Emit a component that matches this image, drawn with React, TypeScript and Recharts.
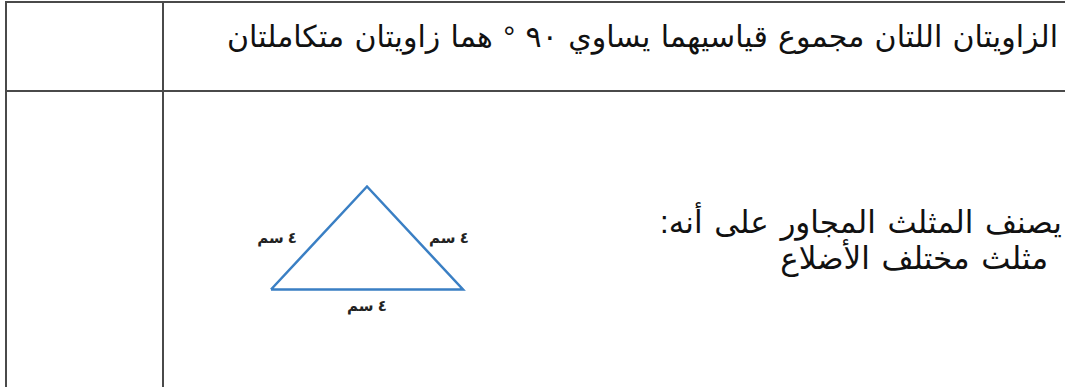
import React from "react"
import { LineChart, Line, XAxis, YAxis, ReferenceDot } from "recharts"

// triangle vertices (closed path: last point repeats the first)
const vertexX = [0, 2, 4, 0]
const vertexY = [0, 1, 0, 0]
const sideLabel = "٤ سم"

const headerText = "الزاويتان اللتان مجموع قياسيهما يساوي ٩٠ ° هما زاويتان متكاملتان"
const bodyLine1 = "يصنف المثلث المجاور على أنه:"
const bodyLine2 = "مثلث مختلف الأضلاع"

const triangle = vertexX.map((x, i) => ({ x, y: vertexY[i] }))

// midpoints of the three sides, each label placed outside its side
const sides = [
  { a: 0, b: 1, position: "left", offset: 22 },
  { a: 1, b: 2, position: "right", offset: 14 },
  { a: 2, b: 3, position: "bottom", offset: 11 },
].map((s) => ({
  x: (vertexX[s.a] + vertexX[s.b]) / 2,
  y: (vertexY[s.a] + vertexY[s.b]) / 2,
  position: s.position,
  offset: s.offset,
}))

const lineColor = "#3a7fc4"
const rule = "#4a4a4a"
const arabicFont = "'Liberation Sans', 'DejaVu Sans', sans-serif"

export default function App() {
  return (
    <div
      style={{
        position: "fixed",
        left: 0,
        top: 0,
        width: 1065,
        height: 387,
        background: "#fff",
        overflow: "hidden",
        fontFamily: arabicFont,
        color: "#111",
      }}
    >
      {/* table rules */}
      <div style={{ position: "absolute", left: 5, top: 1, width: 1060, height: 2, background: rule }} />
      <div style={{ position: "absolute", left: 5, top: 90, width: 1060, height: 2, background: rule }} />
      <div style={{ position: "absolute", left: 5, top: 1, width: 2, height: 386, background: rule }} />
      <div style={{ position: "absolute", left: 162, top: 1, width: 2, height: 386, background: rule }} />

      <div
        dir="rtl"
        style={{
          position: "absolute",
          right: 7,
          top: 22,
          fontSize: 30,
          lineHeight: "30px",
          wordSpacing: 2,
          whiteSpace: "nowrap",
        }}
      >
        {headerText}
      </div>

      <div
        dir="rtl"
        style={{
          position: "absolute",
          right: 3,
          top: 205,
          fontSize: 31,
          lineHeight: "36px",
          wordSpacing: 3,
          whiteSpace: "nowrap",
        }}
      >
        <div>{bodyLine1}</div>
        <div style={{ paddingRight: 14 }}>{bodyLine2}</div>
      </div>

      <div style={{ position: "absolute", left: 199, top: 135 }}>
        <LineChart width={336} height={206} data={triangle} margin={{ top: 0, right: 0, bottom: 0, left: 0 }}>
          <XAxis dataKey="x" type="number" domain={[-1.5, 5.5]} hide />
          <YAxis type="number" domain={[-0.5, 1.5]} hide />
          <Line
            dataKey="y"
            type="linear"
            stroke={lineColor}
            strokeWidth={2.5}
            dot={false}
            isAnimationActive={false}
          />
          {sides.map((s, i) => (
            <ReferenceDot
              key={i}
              x={s.x}
              y={s.y}
              r={0}
              stroke="none"
              fill="none"
              label={{
                value: sideLabel,
                position: s.position as any,
                offset: s.offset,
                fill: "#222",
                fontSize: 15,
                fontWeight: 700,
                fontFamily: arabicFont,
              }}
            />
          ))}
        </LineChart>
      </div>
    </div>
  )
}
